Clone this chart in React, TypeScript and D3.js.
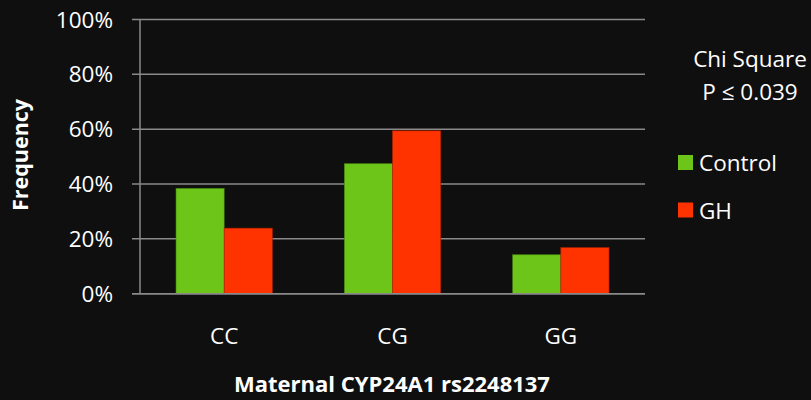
import React from "react";
import * as d3 from "d3";

const categories = ["CC", "CG", "GG"];
const seriesNames = ["Control", "GH"];
const controlValues = [38.4, 47.4, 14.2];
const ghValues = [23.9, 59.4, 16.8];
const yTicks = [0, 20, 40, 60, 80, 100];
const colors = ["#6cc518", "#ff3300"];

const W = 811;
const H = 400;
const left = 140;
const right = 645;
const top = 19.5;
const bottom = 293.7;
const FONT = "'Open Sans', Lato, sans-serif";

export default function App() {
  const x0 = d3.scaleBand<string>().domain(categories).range([left, right]).padding(0);
  const bw = x0.bandwidth();
  const x1 = d3.scaleBand<string>().domain(seriesNames).range([bw * 0.214, bw * 0.786]).padding(0);
  const y = d3.scaleLinear().domain([0, 100]).range([bottom, top]);
  const data = [controlValues, ghValues];

  return (
    <div style={{ position: "absolute", left: 0, top: 0 }}>
      <svg width={W} height={H} style={{ display: "block", background: "#0f0f0f" }}>
        <rect x={0} y={0} width={W} height={H} fill="#0f0f0f" />
        {yTicks.map((t) => (
          <g key={t}>
            <line x1={left - 8} x2={right} y1={y(t)} y2={y(t)} stroke="#8a8a8a" strokeWidth={1.5} />
            <text x={113} y={y(t)} dy="0.36em" textAnchor="end" fill="#ffffff" fontFamily={FONT} fontSize={22.5}>
              {t}%
            </text>
          </g>
        ))}
        <line x1={left} x2={left} y1={top} y2={bottom} stroke="#8a8a8a" strokeWidth={1.5} />
        {categories.map((c, i) => (
          <g key={c}>
            {seriesNames.map((s, j) => (
              <rect
                key={s}
                x={(x0(c) as number) + (x1(s) as number)}
                y={y(data[j][i])}
                width={x1.bandwidth()}
                height={bottom - y(data[j][i])}
                fill={colors[j]}
                stroke={j === 0 ? "#4a8a12" : "#b02400"}
                strokeWidth={0.6}
              />
            ))}
            <text
              x={(x0(c) as number) + bw / 2}
              y={344}
              textAnchor="middle"
              fill="#ffffff"
              fontFamily={FONT}
              fontSize={22.5}
            >
              {c}
            </text>
          </g>
        ))}
        <line x1={left - 8} x2={right} y1={bottom} y2={bottom} stroke="#8a8a8a" strokeWidth={1.5} />
        <text x={392} y={392} textAnchor="middle" fill="#ffffff" fontFamily={FONT} fontSize={22} fontWeight="bold">
          Maternal CYP24A1 rs2248137
        </text>
        <text
          transform="translate(28,155) rotate(-90)"
          textAnchor="middle"
          fill="#ffffff"
          fontFamily={FONT}
          fontSize={21.5}
          fontWeight="bold"
        >
          Frequency
        </text>
        <text x={750} y={67} textAnchor="middle" fill="#ffffff" fontFamily={FONT} fontSize={22.5}>
          Chi Square
        </text>
        <text x={750} y={99.5} textAnchor="middle" fill="#ffffff" fontFamily={FONT} fontSize={22.5}>
          P ≤ 0.039
        </text>
        {seriesNames.map((s, j) => (
          <g key={s}>
            <rect x={678} y={155 + j * 47.5} width={15} height={15} fill={colors[j]} />
            <text x={699} y={171 + j * 47.5} fill="#ffffff" fontFamily={FONT} fontSize={22.5}>
              {s}
            </text>
          </g>
        ))}
      </svg>
    </div>
  );
}
